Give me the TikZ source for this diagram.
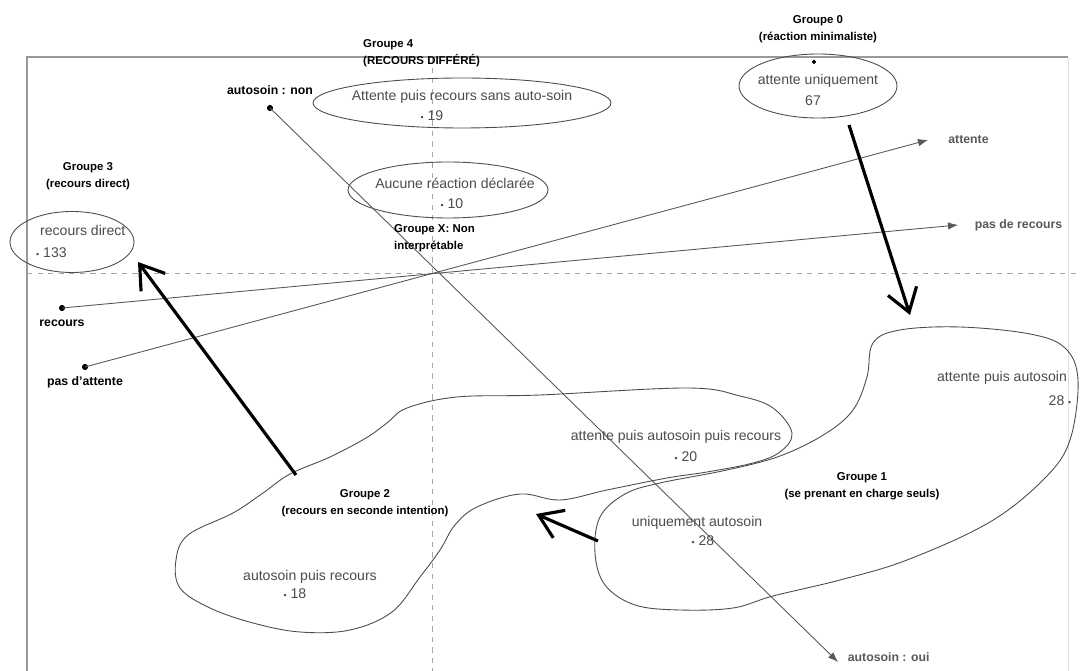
\documentclass[tikz,border=0pt]{standalone}
\usepackage{fontspec}
\setmainfont{Liberation Sans}
\usepackage{tikz}
\usetikzlibrary{arrows.meta,shapes.geometric}
\newcommand{\pt}{{\fontsize{5}{5}\selectfont\textbullet}}

\begin{document}
\begin{tikzpicture}[x=0.02cm,y=-0.02cm,
  axe/.style={gray!70!black, line width=0.5pt},
  rep/.style={gray!70, dashed, line width=0.5pt},
  ovale/.style={draw=gray!60!black, ellipse, inner sep=0pt, line width=0.5pt},
  fleche/.style={line width=1.8pt, -{Straight Barb[length=4.5mm,width=6mm,line width=1.8pt]}},
  titre/.style={font=\bfseries\fontsize{6.5}{9.5}\selectfont, align=center},
  mod/.style={text=gray!60!black, font=\fontsize{8}{10}\selectfont, align=center},
  var/.style={font=\bfseries\fontsize{7}{8}\selectfont}]

\useasboundingbox (0,0) rectangle (1080,671);
\fill [white] (0,0) rectangle (1080,671);

% cadre et axes
\draw [gray!80, line width=0.6pt] (27,671) -- (27,57) -- (1068,57);
\draw [gray!25] (1068,57) -- (1068,671);
\draw [rep] (27,273) -- (1080,273);
\draw [rep] (432,57) -- (432,671);

% variables
\coordinate (non) at (270,108);
\coordinate (oui) at (838,662);
\coordinate (pasatt) at (85,367);
\coordinate (att) at (928,140);
\coordinate (rec) at (62,308);
\coordinate (pasrec) at (958,225);
\filldraw [black] (non) circle (1.5pt) node[var, above, yshift=4pt] {autosoin : non};
\filldraw [black] (pasatt) circle (1.5pt) node[var, below, yshift=-2pt] {pas d'attente};
\filldraw [black] (rec) circle (1.5pt) node[var, below, yshift=-3pt] {recours};
\draw [axe, -{Latex[length=2mm]}] (non) -- (oui) node[var, right, xshift=2pt, yshift=3pt] {autosoin : oui};
\draw [axe, -{Latex[length=2mm]}] (pasatt) -- (att) node[var, right, xshift=8pt] {attente};
\draw [axe, -{Latex[length=2mm]}] (rec) -- (pasrec) node[var, right, xshift=6pt] {pas de recours};

% modalites
\node [ovale, minimum width=5.96cm, minimum height=1.0cm] (diff) at (462,103) {};
\node [mod] at (462,97) {Attente puis recours sans auto-soin};
\node [mod] at (432,116) {\pt\ 19};
\node [ovale, minimum width=4.0cm, minimum height=1.12cm] (aucune) at (448,190) {};
\node [mod] at (455,183) {Aucune réaction déclarée};
\node [mod] at (452,204) {\pt\ 10};
\node [ovale, minimum width=2.48cm, minimum height=1.22cm] (direct) at (72,242) {};
\node [mod, anchor=west] at (34,230) {recours direct};
\node [mod, anchor=west] at (30,253) {\pt\ 133};
\node [ovale, minimum width=3.16cm, minimum height=1.28cm] (minim) at (818,86) {};
\filldraw [black] (814,62) circle (1pt);
\node [mod] at (818,81) {attente uniquement};
\node [mod] at (813,101) {67};

% groupes
\draw [gray!60!black, line width=0.5pt] plot[smooth cycle, tension=0.6] coordinates {
  (407,408) (457,397) (540,395) (687,388) (740,396) (773,408) (792,433)
  (780,452) (753,463) (707,472) (667,478) (607,490) (560,500) (520,494)
  (477,507) (455,525) (440,550) (420,577) (392,612) (350,630) (300,632)
  (253,623) (210,608) (180,588) (176,560) (188,535) (233,513) (263,493)
  (290,474) (330,457) (366,438) (387,423)};
\draw [gray!60!black, line width=0.5pt] plot[smooth cycle, tension=0.6] coordinates {
  (873,343) (900,330) (960,327) (1030,334) (1065,348) (1078,380)
  (1070,440) (1045,478) (990,522) (907,560) (840,580) (773,596)
  (733,608) (680,610) (635,605) (605,585) (595,553) (600,517)
  (625,494) (660,483) (727,470) (780,456) (825,434) (853,410) (867,377)};
\node [mod] at (676,437) {attente puis autosoin puis recours};
\node [mod] at (686,457) {\pt\ 20};
\node [mod] at (697,523) {uniquement autosoin};
\node [mod] at (703,541) {\pt\ 28};
\node [mod] at (1002,378) {attente puis autosoin};
\node [mod] at (1060,401) {28 \pt};
\node [mod] at (310,577) {autosoin puis recours};
\node [mod] at (295,594) {\pt\ 18};

% titres des groupes
\node [titre] (g0) at (818,29) {Groupe 0\\(réaction minimaliste)};
\node [titre, align=left, anchor=west] (g4) at (357,53) {Groupe 4\\(RECOURS DIFFÉRÉ)};
\node [titre] (g3) at (88,176) {Groupe 3\\(recours direct)};
\node [titre, align=left, anchor=west] (gx) at (388,238) {Groupe X: Non\\interprétable};
\node [titre] (g2) at (365,503) {Groupe 2\\(recours en seconde intention)};
\node [titre] (g1) at (862,486) {Groupe 1\\(se prenant en charge seuls)};

% deplacements
\coordinate (a1) at (849,125);
\coordinate (b1) at (910,315);
\coordinate (a2) at (296,475);
\coordinate (b2) at (138,262);
\coordinate (a3) at (598,541);
\coordinate (b3) at (536,514);
\draw [fleche] (a1) -- (b1);
\draw [fleche] (a2) -- (b2);
\draw [fleche] (a3) -- (b3);

\end{tikzpicture}
\end{document}
